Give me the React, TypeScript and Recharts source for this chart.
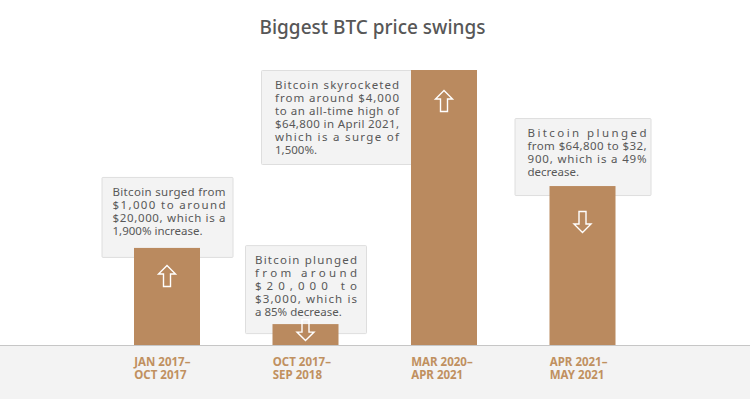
import { BarChart, Bar, XAxis, YAxis } from 'recharts';

const periodStart = ['JAN 2017–', 'OCT 2017–', 'MAR 2020–', 'APR 2021–'];
const periodEnd = ['OCT 2017', 'SEP 2018', 'APR 2021', 'MAY 2021'];
const swing = [35.3, 7.6, 100, 57.8];
const direction = ['up', 'down', 'up', 'down'];
const notes = [
  ['Bitcoin surged from', '$1,000 to around', '$20,000, which is a', '1,900% increase.'],
  ['Bitcoin plunged', 'from around', '$20,000 to', '$3,000, which is', 'a 85% decrease.'],
  ['Bitcoin skyrocketed', 'from around $4,000', 'to an all-time high of', '$64,800 in April 2021,', 'which is a surge of', '1,500%.'],
  ['Bitcoin plunged', 'from $64,800 to $32,', '900, which is a 49%', 'decrease.'],
];

const data = periodStart.map((p, i) => ({ label: p, value: swing[i] }));

// note box layout
const boxW = [131, 121, 151, 136];
const boxH = [80, 88, 94, 77];
const textInset = [11, 10, 14, 13];
const textW = [113, 102, 124, 119];
const arrowOffset = [28, 6, 31, 36];

const BAR = '#ba8a5f';
const FONT = '"Noto Sans", sans-serif';
const BAR_W = 66;

function Arrow({ cx, cy, up }: { cx: number; cy: number; up: boolean }) {
  const s = up ? 1 : -1;
  const pts = [
    [0, -10.5], [8.5, -2], [3.5, -2], [3.5, 10.5], [-3.5, 10.5], [-3.5, -2], [-8.5, -2],
  ].map(([dx, dy]) => `${cx + dx},${cy + s * dy}`).join(' ');
  return <polygon points={pts} fill="none" stroke="#fff" strokeWidth={1.4} strokeLinejoin="miter" />;
}

function SwingBar(props: any) {
  const { x, y, width, height, index } = props;
  const lines = notes[index];
  const w = boxW[index];
  const h = boxH[index];
  const beside = index === 2;
  const bx = beside ? x - w + 1 : x + width / 2 - w / 2;
  const by = beside ? y : y + 9 - h;
  const tx = bx + textInset[index];
  return (
    <g>
      <rect x={bx + 0.5} y={by + 0.5} width={w} height={h} fill="#f3f3f3" stroke="#dedede" rx={1} />
      {lines.map((t, i) => {
        const last = i === lines.length - 1;
        return (
          <text
            key={i}
            x={tx}
            y={by + 19 + i * 13}
            fontFamily={FONT}
            fontSize={11.5}
            fill="#585858"
            textLength={last ? undefined : textW[index]}
            lengthAdjust="spacing"
          >
            {t}
          </text>
        );
      })}
      <rect x={x} y={y} width={width} height={height} fill={BAR} />
      <Arrow cx={x + width / 2} cy={y + arrowOffset[index]} up={direction[index] === 'up'} />
    </g>
  );
}

function PeriodTick(props: any) {
  const { x, y, payload } = props;
  const i = payload.index;
  return (
    <g>
      <text x={x - BAR_W / 2} y={y + 21} fontFamily={FONT} fontSize={11.5} fontWeight={700} fill="#c0905f">
        {periodStart[i]}
      </text>
      <text x={x - BAR_W / 2} y={y + 33.5} fontFamily={FONT} fontSize={11.5} fontWeight={700} fill="#c0905f">
        {periodEnd[i]}
      </text>
    </g>
  );
}

export default function App() {
  return (
    <div style={{ position: 'absolute', left: 0, top: 0, width: 750, height: 399, background: '#fff', overflow: 'hidden' }}>
      <div style={{ position: 'absolute', left: 0, top: 345, width: 750, height: 54, background: '#f3f3f3', borderTop: '1px solid #c6c6c6', boxSizing: 'border-box' }} />
      <div style={{ position: 'absolute', left: 0, top: 14, width: 745, textAlign: 'center', fontFamily: FONT, fontSize: 19, fontWeight: 500, color: '#575757' }}>
        Biggest BTC price swings
      </div>
      <div style={{ position: 'absolute', left: 0, top: 0 }}>
        <BarChart width={750} height={399} data={data} margin={{ top: 70, right: 98, left: 98, bottom: 0 }}>
          <XAxis dataKey="label" height={54} axisLine={false} tickLine={false} tickSize={0} tickMargin={0} interval={0} tick={<PeriodTick />} />
          <YAxis hide domain={[0, 100]} />
          <Bar dataKey="value" barSize={BAR_W} fill={BAR} shape={<SwingBar />} isAnimationActive={false} />
        </BarChart>
      </div>
    </div>
  );
}
